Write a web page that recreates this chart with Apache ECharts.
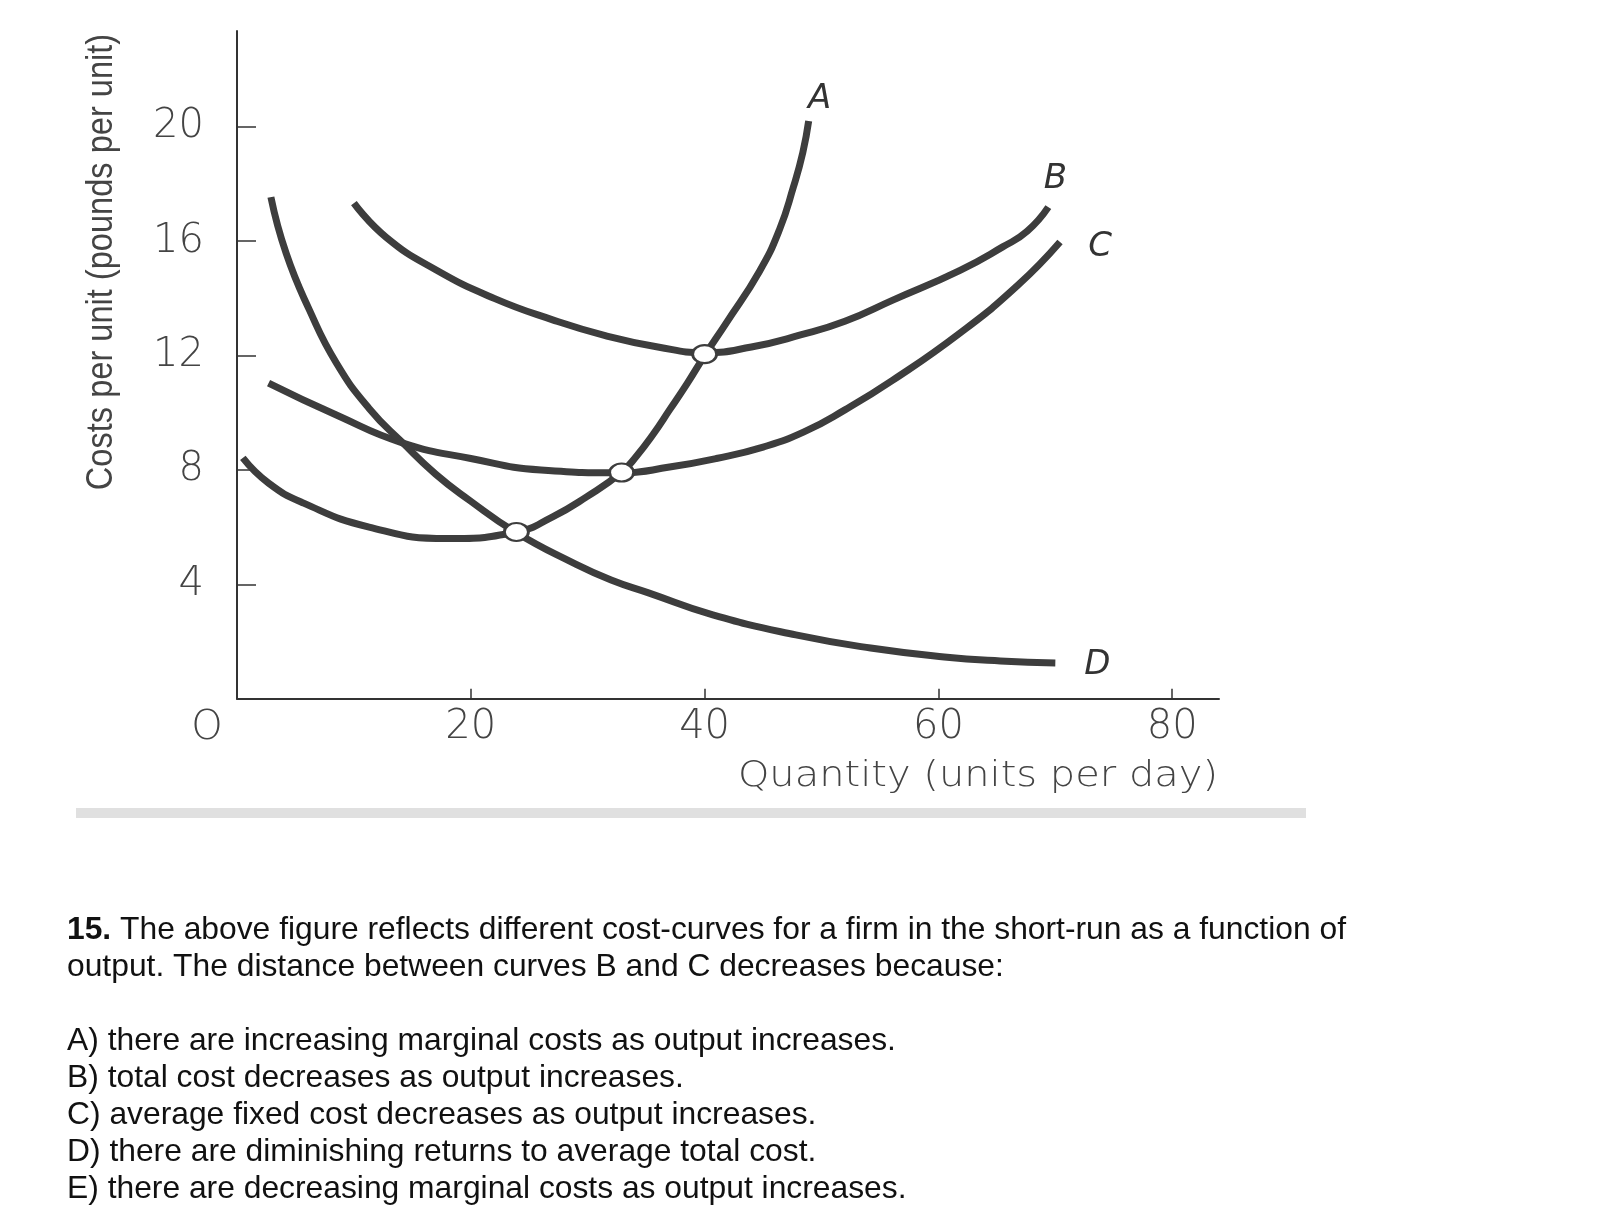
<!DOCTYPE html>
<html><head><meta charset="utf-8">
<script src="https://cdn.jsdelivr.net/npm/echarts@6/dist/echarts.min.js"></script>
<style>html,body{margin:0;padding:0;background:#fff}#c{width:1597px;height:1220px}</style>
</head><body><div id="c"></div>
<script>
// ---- data ----
const qA = [0.5, 2.7, 5.7, 11.3, 18.0, 23.9, 27.0, 29.9, 32.9, 34.2, 35.6, 37.0, 38.5, 40.0, 41.9, 44.7, 46.4, 47.6, 48.4, 48.9];
const cA = [8.42, 7.54, 6.84, 6.00, 5.60, 5.83, 6.36, 7.06, 7.92, 8.50, 9.25, 10.10, 11.02, 12.0, 13.17, 14.95, 16.4, 17.9, 19.1, 20.2];
const qB = [10.0, 12.75, 17.0, 22.0, 27.0, 31.5, 36.0, 40.0, 44.0, 48.2, 52.0, 56.1, 61.85, 65.5, 67.6, 69.4];
const cB = [17.33, 16.14, 15.0, 14.0, 13.25, 12.7, 12.3, 12.1, 12.3, 12.72, 13.2, 13.94, 14.98, 15.8, 16.35, 17.19];
const qC = [2.7, 8.5, 14.2, 20.0, 26.0, 33.0, 37.0, 41.0, 45.0, 48.5, 52.0, 56.1, 61.85, 66.8, 70.4];
const cC = [11.04, 9.92, 8.94, 8.4, 8.0, 7.9, 8.1, 8.40, 8.80, 9.33, 10.1, 11.14, 12.79, 14.46, 15.97];
const qD = [2.9, 4.2, 6.2, 8.5, 11.3, 14.2, 17.0, 19.85, 23.8, 28.8, 32.0, 35.2, 40.7, 47.8, 54.2, 60.5, 65.3, 70.0];
const cD = [17.54, 15.58, 13.59, 11.74, 10.15, 8.94, 7.85, 6.95, 5.83, 4.74, 4.15, 3.70, 2.93, 2.23, 1.77, 1.46, 1.32, 1.25];
const ptQ = [23.9, 32.9, 40.0];
const ptC = [5.83, 7.91, 12.05];
const curveNames = ['A', 'B', 'C', 'D'];
const xTicks = [20, 40, 60, 80];
const yTicks = [4, 8, 12, 16, 20];
const xName = 'Quantity (units per day)';
const yName = 'Costs per unit (pounds per unit)';
const originLabel = 'O';
const questionLines = [
  '{b|15.} The above figure reflects different cost-curves for a firm in the short-run as a function of',
  'output. The distance between curves B and C decreases because:',
  '',
  'A) there are increasing marginal costs as output increases.',
  'B) total cost decreases as output increases.',
  'C) average fixed cost decreases as output increases.',
  'D) there are diminishing returns to average total cost.',
  'E) there are decreasing marginal costs as output increases.'
];

// ---- chart ----
const chart = echarts.init(document.getElementById('c'), null, {renderer: 'canvas'});
const INK = '#3d3d3d';
const pairs = (xs, ys) => xs.map((x, i) => [x, ys[i]]);
const curves = [[qA, cA], [qB, cB], [qC, cC], [qD, cD]];
const labelOffsets = [[11, -22], [7, -28], [40, 5], [42, 2]];

const series = curves.map((c, i) => {
  const d = pairs(c[0], c[1]);
  return {
    type: 'line', name: curveNames[i], data: d,
    smooth: 0.5, showSymbol: false, silent: true,
    lineStyle: {color: INK, width: 7, cap: 'butt'},
    z: 2,
    markPoint: {
      symbol: 'circle', symbolSize: 1, itemStyle: {color: 'rgba(0,0,0,0)'},
      silent: true,
      data: [{coord: d[d.length - 1], value: curveNames[i]}],
      label: {show: true, position: 'inside', offset: labelOffsets[i], formatter: curveNames[i],
        fontFamily: 'DejaVu Sans', fontStyle: 'italic', fontWeight: 300, fontSize: 34, color: '#333'}
    }
  };
});
series.push({
  type: 'scatter', data: pairs(ptQ, ptC), symbol: 'circle', symbolSize: [24, 18],
  itemStyle: {color: '#ffffff', opacity: 1, borderColor: INK, borderWidth: 2.5}, z: 5, silent: true
});

const tickFont = {fontFamily: 'DejaVu Sans', fontWeight: 300, fontSize: 40, color: '#444'};

chart.setOption({
  animation: false,
  backgroundColor: '#fff',
  grid: {left: 237, top: 31, width: 982, height: 667.7, containLabel: false},
  xAxis: {
    type: 'value', min: 0, max: 84,
    axisLine: {show: true, lineStyle: {color: '#333', width: 2}},
    axisTick: {show: true, inside: true, length: 10, customValues: xTicks, lineStyle: {color: '#333', width: 1.5}},
    axisLabel: Object.assign({show: true, margin: 9, customValues: xTicks}, tickFont),
    splitLine: {show: false}
  },
  yAxis: {
    type: 'value', min: 0, max: 23.35,
    axisLine: {show: true, lineStyle: {color: '#333', width: 2}},
    axisTick: {show: true, inside: true, length: 19, customValues: yTicks, lineStyle: {color: '#333', width: 1.5}},
    axisLabel: Object.assign({show: true, margin: 33, customValues: yTicks}, tickFont),
    splitLine: {show: false}
  },
  series: series,
  graphic: [
    {type: 'text', x: 207, y: 729, style: {text: originLabel, align: 'center', verticalAlign: 'middle', font: '300 40px "DejaVu Sans"', fill: '#444'}},
    {type: 'text', x: 1218, y: 777, scaleX: 1.11, style: {text: xName, align: 'right', verticalAlign: 'middle', font: '300 36px "DejaVu Sans"', fill: '#444'}},
    {type: 'text', x: 102, y: 262, rotation: Math.PI / 2, scaleX: 0.905, style: {text: yName, align: 'center', verticalAlign: 'middle', font: '36px "Liberation Sans"', fill: '#444'}},
    {type: 'rect', shape: {x: 76, y: 808, width: 1230, height: 10}, style: {fill: '#e0e0e0'}},
    {type: 'text', x: 67, y: 912, style: {
      text: questionLines.join('\n'), font: '31.8px "Liberation Sans"', fill: '#111', lineHeight: 36.9,
      rich: {b: {fontWeight: 'bold', fontFamily: 'Liberation Sans', fontSize: 31.8, fill: '#111', lineHeight: 36.9}}
    }}
  ]
});
</script>
</body></html>
